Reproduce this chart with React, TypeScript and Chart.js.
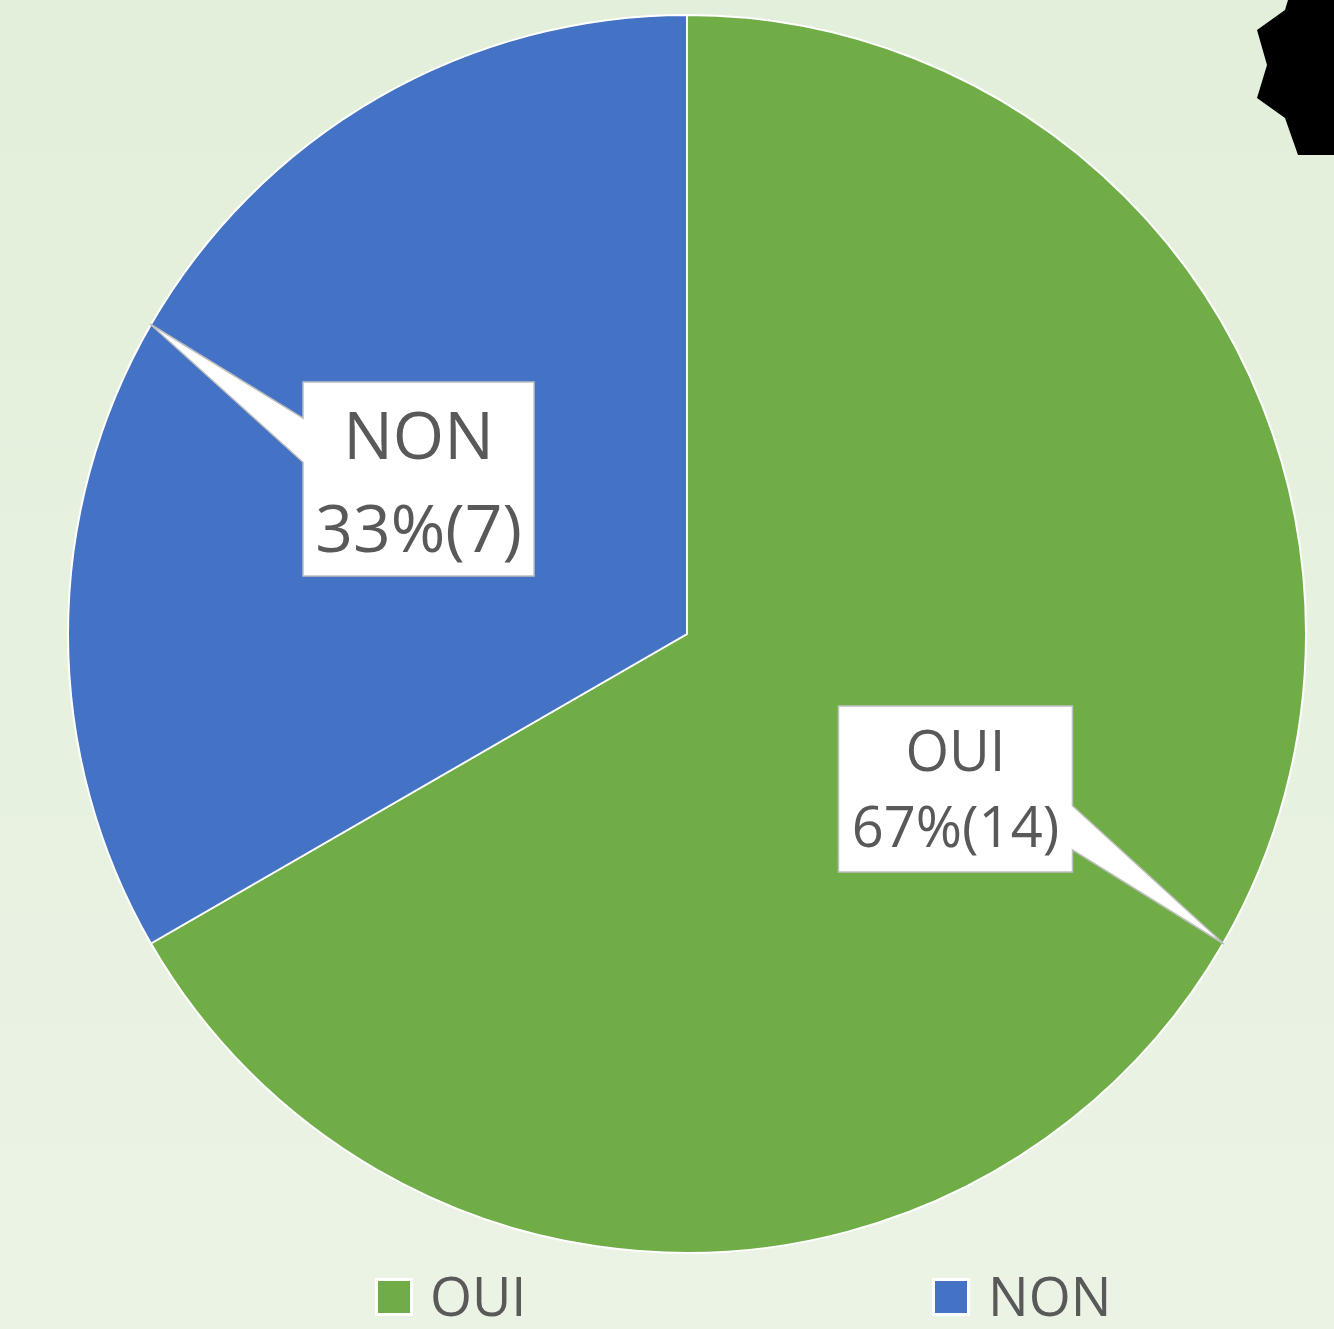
import React, { useEffect, useRef } from "react";
import { Chart, registerables } from "chart.js";

Chart.register(...registerables);

// ---- data ----
const categories = ["OUI", "NON"];
const counts = [14, 7];
const percentLabels = ["67%", "33%"];
const sliceColors = ["#70AD47", "#4472C4"];

// ---- styling (not data) ----
const W = 1334;
const H = 1329;
const TEXT_COLOR = "#595959";
const FONT = '"Open Sans", "DejaVu Sans", sans-serif';
const calloutStyles = [
  { fontSize: 56, lineH: 75.5, boxW: 234, boxH: 166, dy: 0 },
  { fontSize: 66, lineH: 93, boxW: 231, boxH: 194, dy: 3 },
];
const legendItems = [
  { boxX: 378, textX: 430 },
  { boxX: 935, textX: 988 },
];

const backgroundPlugin = {
  id: "bg",
  beforeDraw(chart: any) {
    const ctx = chart.ctx;
    const g = ctx.createLinearGradient(0, 0, 0, chart.height);
    g.addColorStop(0, "#E2EFDA");
    g.addColorStop(1, "#EBF3E5");
    ctx.save();
    ctx.fillStyle = g;
    ctx.fillRect(0, 0, chart.width, chart.height);
    ctx.restore();
  },
};

const calloutPlugin = {
  id: "callouts",
  afterDatasetsDraw(chart: any) {
    const ctx = chart.ctx;
    const meta = chart.getDatasetMeta(0);
    meta.data.forEach((arc: any, i: number) => {
      const st = calloutStyles[i];
      const { x, y, startAngle, endAngle, outerRadius } = arc.getProps(
        ["x", "y", "startAngle", "endAngle", "outerRadius"],
        true
      );
      const mid = (startAngle + endAngle) / 2;
      const R = outerRadius + 1;
      const tipX = x + R * Math.cos(mid);
      const tipY = y + R * Math.sin(mid);
      const cx = x + (R / 2) * Math.cos(mid);
      const cy = y + (R / 2) * Math.sin(mid);
      const x0 = cx - st.boxW / 2;
      const x1 = cx + st.boxW / 2;
      const y0 = cy - st.boxH / 2;
      const y1 = cy + st.boxH / 2;
      const baseC = cy + (tipY - cy) * 0.25;
      const hw = 22;
      ctx.save();
      ctx.beginPath();
      if (tipX < x0) {
        ctx.moveTo(x0, y0);
        ctx.lineTo(x1, y0);
        ctx.lineTo(x1, y1);
        ctx.lineTo(x0, y1);
        ctx.lineTo(x0, baseC + hw);
        ctx.lineTo(tipX, tipY);
        ctx.lineTo(x0, baseC - hw);
      } else {
        ctx.moveTo(x0, y0);
        ctx.lineTo(x1, y0);
        ctx.lineTo(x1, baseC - hw);
        ctx.lineTo(tipX, tipY);
        ctx.lineTo(x1, baseC + hw);
        ctx.lineTo(x1, y1);
        ctx.lineTo(x0, y1);
      }
      ctx.closePath();
      ctx.fillStyle = "#FFFFFF";
      ctx.fill();
      ctx.lineWidth = 1.5;
      ctx.strokeStyle = "#BFBFBF";
      ctx.lineJoin = "miter";
      ctx.stroke();

      ctx.fillStyle = TEXT_COLOR;
      ctx.font = `${st.fontSize}px ${FONT}`;
      ctx.textAlign = "center";
      ctx.textBaseline = "alphabetic";
      const lines = [
        chart.data.labels[i],
        `${percentLabels[i]}(${chart.data.datasets[0].data[i]})`,
      ];
      const capHalf = st.fontSize * 0.357;
      lines.forEach((t: string, k: number) => {
        const lc = cy + st.dy + (k - (lines.length - 1) / 2) * st.lineH;
        ctx.fillText(t, cx, lc + capHalf);
      });
      ctx.restore();
    });
  },
};

const legendPlugin = {
  id: "customLegend",
  afterDraw(chart: any) {
    const ctx = chart.ctx;
    const ds = chart.data.datasets[0];
    const cyL = 1297;
    const box = 32;
    ctx.save();
    chart.data.labels.forEach((lab: string, i: number) => {
      const it = legendItems[i];
      ctx.fillStyle = "#FFFFFF";
      ctx.fillRect(it.boxX - 3, cyL - box / 2 - 3, box + 6, box + 6);
      ctx.fillStyle = ds.backgroundColor[i];
      ctx.fillRect(it.boxX, cyL - box / 2, box, box);
      ctx.fillStyle = TEXT_COLOR;
      ctx.font = `54px ${FONT}`;
      ctx.textAlign = "left";
      ctx.textBaseline = "alphabetic";
      ctx.fillText(lab, it.textX, cyL + 54 * 0.357);
    });
    ctx.restore();
  },
};

const decorationPlugin = {
  id: "decor",
  afterDraw(chart: any) {
    const ctx = chart.ctx;
    const pts = [
      [1288, 0], [1285, 10], [1257, 30], [1267, 65], [1257, 98],
      [1285, 118], [1298, 155], [1334, 155], [1334, 0],
    ];
    ctx.save();
    ctx.beginPath();
    pts.forEach(([px, py], i) => (i === 0 ? ctx.moveTo(px, py) : ctx.lineTo(px, py)));
    ctx.closePath();
    ctx.fillStyle = "#000000";
    ctx.fill();
    ctx.restore();
  },
};

export default function App() {
  const ref = useRef<HTMLCanvasElement | null>(null);
  useEffect(() => {
    const canvas = ref.current;
    if (!canvas) return;
    const chart = new Chart(canvas, {
      type: "pie",
      data: {
        labels: categories,
        datasets: [
          {
            data: counts,
            backgroundColor: sliceColors,
            borderColor: "#FFFFFF",
            borderWidth: 2,
          },
        ],
      },
      options: {
        responsive: false,
        animation: false,
        devicePixelRatio: 1,
        layout: { padding: { left: 67, right: 27, top: 14, bottom: 75 } },
        plugins: {
          legend: { display: false },
          tooltip: { enabled: false },
        },
      } as any,
      plugins: [backgroundPlugin, calloutPlugin, legendPlugin, decorationPlugin],
    });
    return () => chart.destroy();
  }, []);
  return (
    <div style={{ position: "absolute", left: 0, top: 0, width: W, height: H }}>
      <canvas ref={ref} width={W} height={H} style={{ display: "block", width: W, height: H }} />
    </div>
  );
}
